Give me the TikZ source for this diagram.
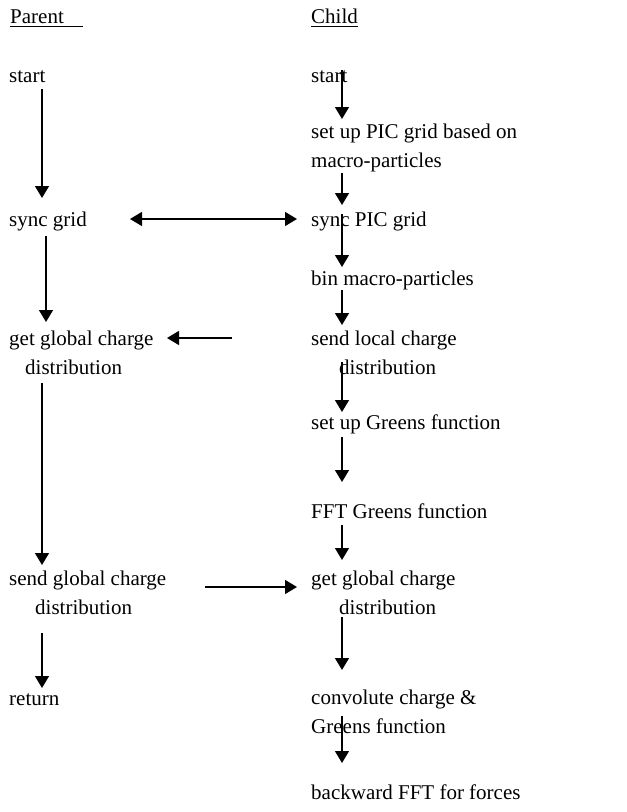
\documentclass[tikz,border=0pt]{standalone}
\usepackage{fontspec}
\setmainfont{Liberation Serif}
\usetikzlibrary{arrows.meta}
\begin{document}
\begin{tikzpicture}[x=1pt,y=-1pt,
  lbl/.style={anchor=base west,inner sep=0pt,font=\fontsize{21}{29}\selectfont,align=left},
  arr/.style={line width=1.4pt,-{Triangle[width=14pt,length=12pt]}},
  darr/.style={line width=1.4pt,{Triangle[width=14pt,length=12pt]}-{Triangle[width=14pt,length=12pt]}}]
\useasboundingbox (0,0) rectangle (627,812);
% headers
\node[lbl] (parent) at (10,23) {Parent};
\node[lbl] (child) at (311,23) {Child};
\draw[line width=0.9pt] (parent.base west) ++(0,3) coordinate (pu1) -- ++(73,0) coordinate (pu2);
\draw[line width=0.9pt] (child.base west) ++(0,3) coordinate (cu1) -- (child.base east |- cu1) coordinate (cu2);
% parent column (multi-line nodes are placed at the baseline of their last line)
\node[lbl] (pstart) at (9,82) {start};
\node[lbl] (psync) at (9,226) {sync grid};
\node[lbl] (pget) at (9,374) {get global charge\\\hspace*{16pt}distribution};
\node[lbl] (psend) at (9,614) {send global charge\\\hspace*{26pt}distribution};
\node[lbl] (preturn) at (9,705) {return};
% child column
\node[lbl] (cstart) at (311,82) {start};
\node[lbl] (csetup) at (311,167) {set up PIC grid based on\\macro-particles};
\node[lbl] (csync) at (311,226) {sync PIC grid};
\node[lbl] (cbin) at (311,285) {bin macro-particles};
\node[lbl] (csendl) at (311,374) {send local charge\\\hspace*{28pt}distribution};
\node[lbl] (cgreen) at (311,429) {set up Greens function};
\node[lbl] (cfft) at (311,518) {FFT Greens function};
\node[lbl] (cgetg) at (311,614) {get global charge\\\hspace*{28pt}distribution};
\node[lbl] (cconv) at (311,733) {convolute charge \&\\Greens function};
\node[lbl] (cback) at (311,799) {backward FFT for forces};
% connector coordinates
\coordinate (a1s) at (42,89);  \coordinate (a1e) at (42,198);
\coordinate (a2s) at (46,236); \coordinate (a2e) at (46,322);
\coordinate (a3s) at (42,383); \coordinate (a3e) at (42,565);
\coordinate (a4s) at (42,633); \coordinate (a4e) at (42,688);
\coordinate (h1s) at (130,219); \coordinate (h1e) at (297,219);
\coordinate (h2s) at (232,338); \coordinate (h2e) at (167,338);
\coordinate (h3s) at (205,587); \coordinate (h3e) at (297,587);
\coordinate (c1s) at (342,70);  \coordinate (c1e) at (342,119);
\coordinate (c2s) at (342,173); \coordinate (c2e) at (342,205);
\coordinate (c3s) at (342,214); \coordinate (c3e) at (342,267);
\coordinate (c4s) at (342,290); \coordinate (c4e) at (342,325);
\coordinate (c5s) at (342,362); \coordinate (c5e) at (342,412);
\coordinate (c6s) at (342,437); \coordinate (c6e) at (342,482);
\coordinate (c7s) at (342,525); \coordinate (c7e) at (342,560);
\coordinate (c8s) at (342,617); \coordinate (c8e) at (342,670);
\coordinate (c9s) at (342,716); \coordinate (c9e) at (342,763);
% parent arrows
\draw[arr] (a1s) -- (a1e);
\draw[arr] (a2s) -- (a2e);
\draw[arr] (a3s) -- (a3e);
\draw[arr] (a4s) -- (a4e);
% horizontal arrows
\draw[darr] (h1s) -- (h1e);
\draw[arr] (h2s) -- (h2e);
\draw[arr] (h3s) -- (h3e);
% child arrows
\draw[arr] (c1s) -- (c1e);
\draw[arr] (c2s) -- (c2e);
\draw[arr] (c3s) -- (c3e);
\draw[arr] (c4s) -- (c4e);
\draw[arr] (c5s) -- (c5e);
\draw[arr] (c6s) -- (c6e);
\draw[arr] (c7s) -- (c7e);
\draw[arr] (c8s) -- (c8e);
\draw[arr] (c9s) -- (c9e);
\end{tikzpicture}
\end{document}
